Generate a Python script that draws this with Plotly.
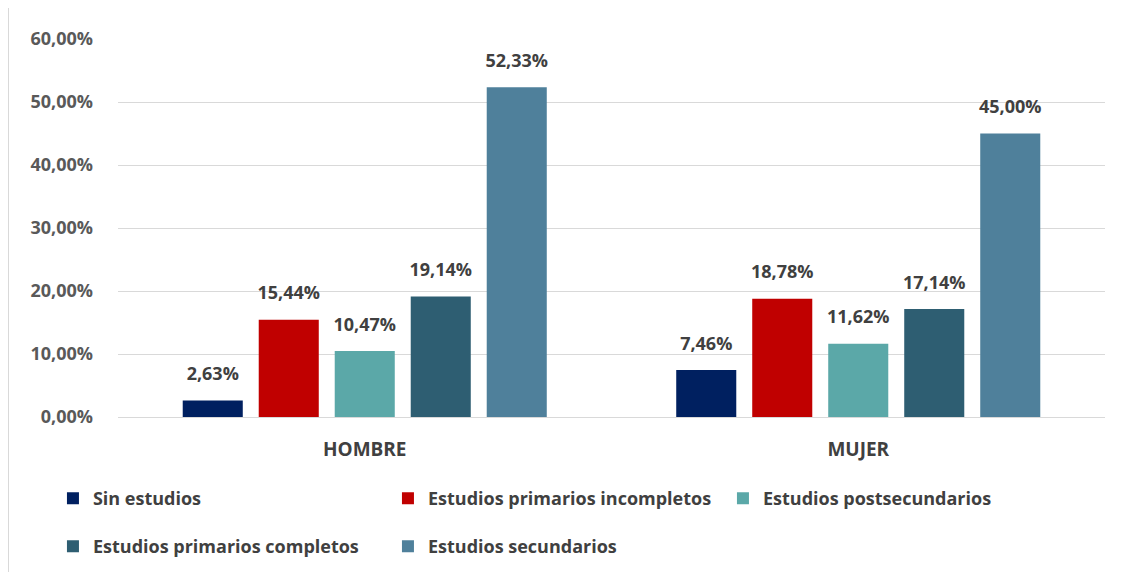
import plotly.graph_objects as go

categories = ["HOMBRE", "MUJER"]
series_names = ["Sin estudios", "Estudios primarios incompletos", "Estudios postsecundarios",
                "Estudios primarios completos", "Estudios secundarios"]
sin_estudios = [2.63, 7.46]
primarios_incompletos = [15.44, 18.78]
postsecundarios = [10.47, 11.62]
primarios_completos = [19.14, 17.14]
secundarios = [52.33, 45.00]
colors = ["#002060", "#C00000", "#5BA8A8", "#2E5E72", "#4F809B"]
legend_ids = ["legend", "legend", "legend", "legend2", "legend2"]

series_values = [sin_estudios, primarios_incompletos, postsecundarios, primarios_completos, secundarios]

FONT = "Open Sans, Lato, sans-serif"
L, R, T, B = 110, 32, 31, 163
W, H = 1129, 572
PW, PH = W - L - R, H - T - B
BARGAP = 0.23

fig = go.Figure()
for i, (name, vals, col, lg) in enumerate(zip(series_names, series_values, colors, legend_ids)):
    fig.add_trace(go.Bar(
        x=categories, y=[v / 100 for v in vals], name=name, marker_color=col,
        legend=lg, offsetgroup=str(i), hoverinfo="y",
    ))
for i, vals in enumerate(series_values):
    fig.add_trace(go.Scatter(
        x=categories, y=[v / 100 for v in vals], mode="markers+text",
        marker=dict(size=24, opacity=0), offsetgroup=str(i),
        text=[f"{v:.2f}%".replace(".", ",") for v in vals], textposition="top center",
        textfont=dict(family=FONT, size=18, color="#404040", weight="bold"),
        showlegend=False, hoverinfo="skip", cliponaxis=False,
    ))

leg_font = dict(family=FONT, size=18, color="#404040", weight="bold")
fig.update_layout(
    width=W, height=H, template="none",
    paper_bgcolor="white", plot_bgcolor="white",
    separators=",.",
    barmode="group", bargap=BARGAP, bargroupgap=0.21,
    scattermode="group", scattergap=BARGAP,
    margin=dict(l=L, r=R, t=T, b=B, autoexpand=False),
    font=dict(family=FONT, color="#595959", size=15),
    yaxis=dict(range=[0, 0.6], dtick=0.1, tickformat=".2%", gridcolor="#D9D9D9", gridwidth=1,
               zeroline=False, showline=False, ticks="", ticklabelstandoff=24,
               tickfont=dict(family=FONT, size=18, color="#595959", weight="bold")),
    xaxis=dict(showline=True, linecolor="#D9D9D9", ticks="", showgrid=False, ticklabelstandoff=15,
               tickfont=dict(family=FONT, size=19, color="#404040", weight="bold")),
    legend=dict(orientation="h", x=-0.0659, xanchor="left", y=-0.167, yanchor="top",
                entrywidth=290, itemwidth=30, traceorder="normal", font=leg_font),
    legend2=dict(orientation="h", x=-0.0659, xanchor="left", y=-0.294, yanchor="top",
                 entrywidth=290, itemwidth=30, traceorder="normal", font=leg_font),
    showlegend=True,
)
fig.add_shape(type="line", xref="paper", yref="paper",
              x0=-L / PW + 0.0005, x1=-L / PW + 0.0005, y0=-B / PH, y1=1 + T / PH,
              line=dict(color="#D9D9D9", width=1))
fig.write_html("out.html")
